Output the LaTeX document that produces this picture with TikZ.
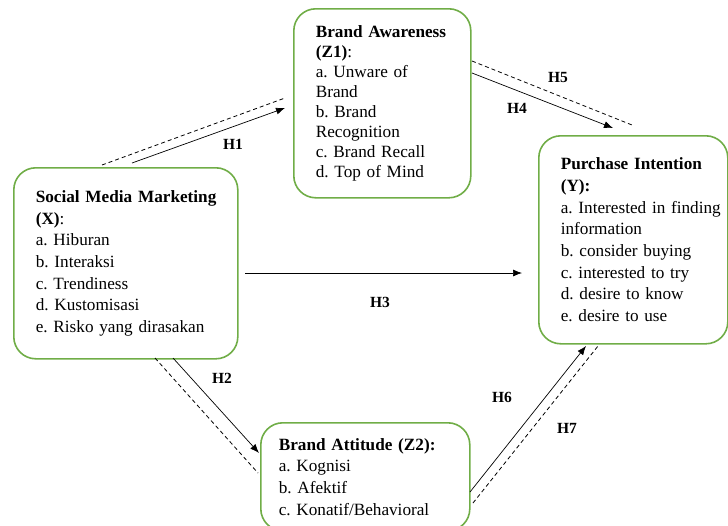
\documentclass[tikz,border=0pt]{standalone}
\usepackage{fontspec}
\setmainfont{Liberation Serif}
\frenchspacing
\usetikzlibrary{arrows.meta}
\definecolor{boxgreen}{HTML}{70AD47}
\tikzset{
  varbox/.style={draw=boxgreen,line width=1.6pt,rounded corners=22pt,anchor=north west,
    align=left,inner xsep=22pt,inner ysep=0pt,font=\fontsize{17.2}{21.7}\selectfont},
  hyp/.style={font=\bfseries\fontsize{15.5}{18}\selectfont},
  link/.style={line width=0.7pt,-{Latex[length=9pt,width=7pt]}},
  dlink/.style={line width=0.8pt,dash pattern=on 4pt off 3pt}
}
\begin{document}
\begin{tikzpicture}[x=1pt,y=-1pt]
\useasboundingbox (0,0) rectangle (728,525);
% variables
\node [varbox,text width=133pt,minimum height=189pt,font=\fontsize{17.2}{20}\selectfont] (z1) at (293,8)
  {\textbf{Brand Awareness}\\\textbf{(Z1)}:\\a. Unware of\\Brand\\b. Brand\\Recognition\\c. Brand Recall\\d. Top of Mind};
\node [varbox,text width=180pt,minimum height=191pt] (x) at (13,167)
  {\mbox{\textbf{Social Media Marketing}}\\\textbf{(X)}:\\a. Hiburan\\b. Interaksi\\c. Trendiness\\d. Kustomisasi\\\mbox{e. Risko yang dirasakan}};
\node [varbox,text width=145pt,minimum height=208pt] (y) at (538,135)
  {\textbf{Purchase Intention}\\\textbf{(Y):}\\\mbox{a. Interested in finding}\\information\\b. consider buying\\c. interested to try\\d. desire to know\\e. desire to use};
\node [varbox,inner xsep=18pt,text width=173pt,minimum height=108pt] (z2) at (260,422)
  {\textbf{Brand Attitude (Z2):}\\a. Kognisi\\b. Afektif\\c. Konatif/Behavioral};
% end points
\coordinate (h1a) at (132,163); \coordinate (h1b) at (285,108);
\coordinate (d1a) at (102,165); \coordinate (d1b) at (285,98);
\coordinate (h2a) at (173,358); \coordinate (h2b) at (259,453);
\coordinate (d2a) at (155,358); \coordinate (d2b) at (258,473);
\coordinate (h3a) at (245,273); \coordinate (h3b) at (522,273);
\coordinate (h4a) at (472,73);  \coordinate (h4b) at (613,128);
\coordinate (d5a) at (472,61);  \coordinate (d5b) at (632,125);
\coordinate (h6a) at (470,492); \coordinate (h6b) at (586,346);
\coordinate (d7a) at (473,503); \coordinate (d7b) at (598,346);
\draw [link] (h1a) -- (h1b);
\draw [dlink] (d1a) -- (d1b);
\draw [link] (h2a) -- (h2b);
\draw [dlink] (d2a) -- (d2b);
\draw [link] (h3a) -- (h3b);
\draw [link] (h4a) -- (h4b);
\draw [dlink] (d5a) -- (d5b);
\draw [link] (h6a) -- (h6b);
\draw [dlink] (d7a) -- (d7b);
% hypotheses
\node [hyp] (l1) at (233,144) {H1};
\node [hyp] (l2) at (222,378) {H2};
\node [hyp] (l3) at (380,302) {H3};
\node [hyp] (l4) at (517,108) {H4};
\node [hyp] (l5) at (558,77)  {H5};
\node [hyp] (l6) at (502,397) {H6};
\node [hyp] (l7) at (567,428) {H7};
\end{tikzpicture}
\end{document}
